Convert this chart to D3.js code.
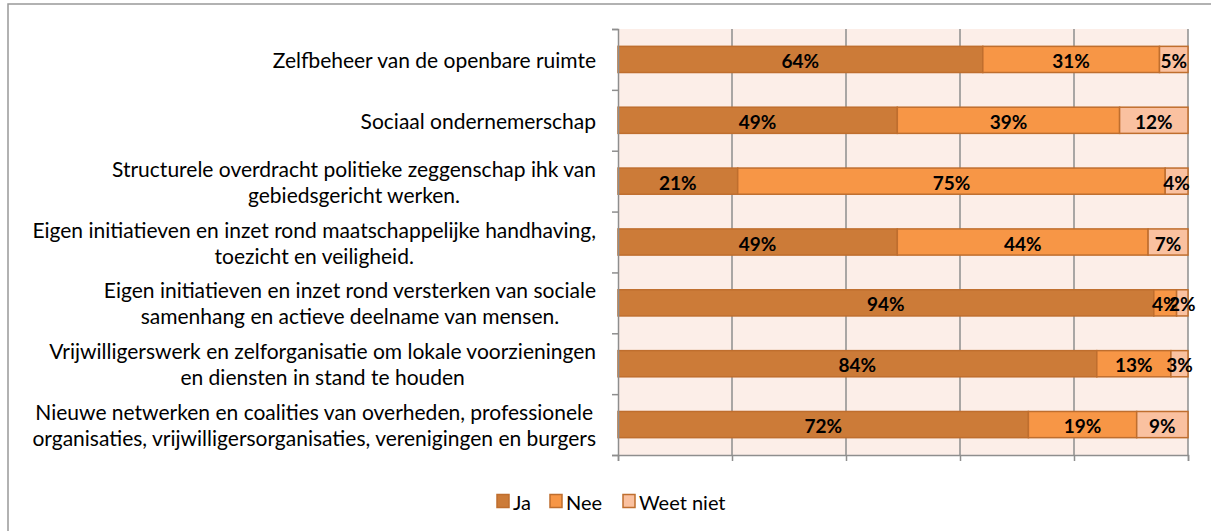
<!DOCTYPE html>
<html>
<head>
<meta charset="utf-8">
<script src="https://cdn.jsdelivr.net/npm/d3@7"></script>
<style>
  html, body { margin: 0; padding: 0; background: #fff; }
  svg { display: block; font-family: Lato, "Open Sans", sans-serif; }
</style>
</head>
<body>
<svg id="chart" width="1211" height="531"></svg>
<script>
// categories, top to bottom (line breaks as in the original)
const categories = [
  "Zelfbeheer van de openbare ruimte",
  "Sociaal ondernemerschap",
  "Structurele overdracht politieke zeggenschap ihk van\ngebiedsgericht werken.",
  "Eigen initiatieven en inzet rond maatschappelijke handhaving,\ntoezicht en veiligheid.",
  "Eigen initiatieven en inzet rond versterken van sociale\nsamenhang en actieve deelname van mensen.",
  "Vrijwilligerswerk en zelforganisatie om lokale voorzieningen\nen diensten in stand te houden",
  "Nieuwe netwerken en coalities van overheden, professionele\norganisaties, vrijwilligersorganisaties, verenigingen en burgers"
];
const seriesNames = ["Ja", "Nee", "Weet niet"];
const ja       = [64, 49, 21, 49, 94, 84, 72];
const nee      = [31, 39, 75, 44,  4, 13, 19];
const weetNiet = [ 5, 12,  4,  7,  2,  3,  9];
const xTicks = [0, 20, 40, 60, 80, 100];

const colors = ["#CC7B38", "#F79646", "#FAC1A0"];
const strokeCol = "#BF6E2E";

const plot = { left: 618, right: 1188, top: 29, bottom: 455 };

const svg = d3.select("#chart");

// outer chart frame (right / bottom edges fall outside the picture)
svg.append("rect")
  .attr("x", 8).attr("y", 4)
  .attr("width", 1260).attr("height", 560)
  .attr("fill", "#fff")
  .attr("stroke", "#999").attr("stroke-width", 1.5);

const x = d3.scaleLinear().domain([0, 100]).range([plot.left, plot.right]);
const yCat = d3.scaleBand().domain(categories).range([plot.top, plot.bottom]).padding(0);
const barH = yCat.step() * 0.43;

// plot background
svg.append("rect")
  .attr("x", plot.left).attr("y", plot.top)
  .attr("width", plot.right - plot.left).attr("height", plot.bottom - plot.top)
  .attr("fill", "#FCEEE8");

// vertical gridlines
svg.append("g")
  .selectAll("line")
  .data(xTicks.slice(1))
  .join("line")
  .attr("x1", d => x(d)).attr("x2", d => x(d))
  .attr("y1", plot.top).attr("y2", plot.bottom)
  .attr("stroke", "#8E8E8E").attr("stroke-width", 1.5);

// stacked data
const rows = categories.map((c, i) => ({ cat: c, Ja: ja[i], Nee: nee[i], "Weet niet": weetNiet[i] }));
const stacked = d3.stack().keys(seriesNames)(rows);

const layer = svg.append("g")
  .selectAll("g")
  .data(stacked)
  .join("g")
  .attr("fill", (d, i) => colors[i]);

layer.selectAll("rect")
  .data(d => d)
  .join("rect")
  .attr("x", d => x(d[0]))
  .attr("y", d => yCat(d.data.cat) + (yCat.step() - barH) / 2)
  .attr("width", d => x(d[1]) - x(d[0]))
  .attr("height", barH)
  .attr("stroke", strokeCol).attr("stroke-width", 1.5);

// value labels
layer.selectAll("text")
  .data(d => d)
  .join("text")
  .attr("x", d => (x(d[0]) + x(d[1])) / 2)
  .attr("y", d => yCat(d.data.cat) + yCat.step() / 2 + 1)
  .attr("text-anchor", "middle")
  .attr("dominant-baseline", "central")
  .attr("fill", "#000")
  .attr("font-weight", "bold")
  .attr("font-size", 19)
  .text(d => (d[1] - d[0]) + "%");

// axes
const axisCol = "#8E8E8E";
const yAxis = svg.append("g").attr("transform", `translate(${plot.left},0)`)
  .call(d3.axisLeft(d3.scaleLinear().domain([0, categories.length]).range([plot.top, plot.bottom]))
    .ticks(categories.length).tickSize(6).tickFormat(""));
const xAxis = svg.append("g").attr("transform", `translate(0,${plot.bottom})`)
  .call(d3.axisBottom(x).tickValues(xTicks).tickSize(6).tickFormat(""));
[yAxis, xAxis].forEach(a => {
  a.selectAll("path").attr("stroke", axisCol).attr("stroke-width", 1.5);
  a.selectAll("line").attr("stroke", axisCol).attr("stroke-width", 1.5);
});

// category labels: blocks right-aligned, lines centred in the block
const labelRight = 596;
const lineH = 26;
categories.forEach(c => {
  const lines = c.split("\n");
  const g = svg.append("g");
  const cy = yCat(c) + yCat.step() / 2;
  const texts = lines.map((ln, j) => g.append("text")
    .attr("y", cy + (j - (lines.length - 1) / 2) * lineH)
    .attr("dominant-baseline", "central")
    .attr("text-anchor", "middle")
    .attr("font-size", 21)
    .attr("fill", "#000")
    .text(ln));
  const w = d3.max(texts, t => t.node().getComputedTextLength());
  texts.forEach(t => t.attr("x", labelRight - w / 2));
});

// legend
const legendItems = [
  { name: "Ja", x: 497 },
  { name: "Nee", x: 550 },
  { name: "Weet niet", x: 623 }
];
const legend = svg.append("g").selectAll("g")
  .data(legendItems)
  .join("g")
  .attr("transform", d => `translate(${d.x},501)`);
legend.append("rect")
  .attr("x", 0).attr("y", -6.5)
  .attr("width", 12).attr("height", 13)
  .attr("fill", (d, i) => colors[i])
  .attr("stroke", strokeCol).attr("stroke-width", 1.5);
legend.append("text")
  .attr("x", 16).attr("y", 1)
  .attr("dominant-baseline", "central")
  .attr("font-size", 20)
  .attr("fill", "#000")
  .text(d => d.name);
</script>
</body>
</html>
